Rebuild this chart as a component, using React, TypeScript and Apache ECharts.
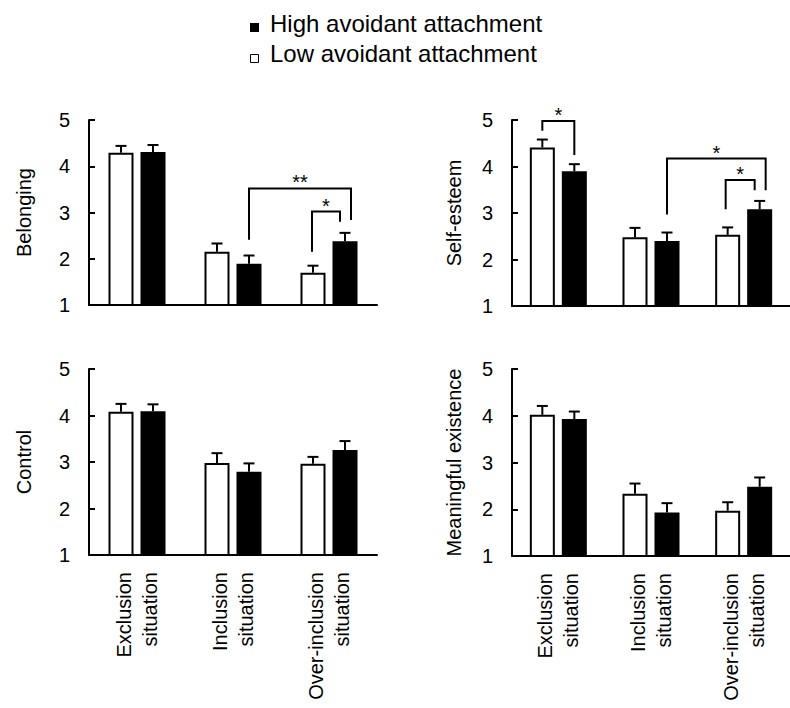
import React, { useEffect, useRef } from "react";
import * as echarts from "echarts";

// ---------- data ----------
const categories = ["Exclusion\nsituation", "Inclusion\nsituation", "Over-inclusion\nsituation"];
const panelNames = ["Belonging", "Self-esteem", "Control", "Meaningful existence"];
const lowName = "Low avoidant attachment";
const highName = "High avoidant attachment";
const yMin = 1;
const yMax = 5;
const yStep = 1;

const belongingLow = [4.29, 2.15, 1.7];
const belongingHigh = [4.31, 1.89, 2.38];
const belongingLowErr = [0.15, 0.18, 0.15];
const belongingHighErr = [0.15, 0.18, 0.18];

const selfEsteemLow = [4.41, 2.48, 2.53];
const selfEsteemHigh = [3.9, 2.4, 3.08];
const selfEsteemLowErr = [0.17, 0.2, 0.16];
const selfEsteemHighErr = [0.15, 0.18, 0.18];

const controlLow = [4.08, 2.98, 2.96];
const controlHigh = [4.09, 2.79, 3.26];
const controlLowErr = [0.17, 0.21, 0.15];
const controlHighErr = [0.15, 0.18, 0.19];

const meaningLow = [4.02, 2.33, 1.97];
const meaningHigh = [3.93, 1.93, 2.48];
const meaningLowErr = [0.19, 0.22, 0.18];
const meaningHighErr = [0.16, 0.2, 0.2];

// significance brackets: [from category, from group (0 low / 1 high), from leg end,
//                         to category, to group, to leg end, bracket height, label]
const belongingBrackets = [
  [1, 1, 2.41, 2, 1, 2.84, 3.52, "**"],
  [2, 0, 2.15, 2, 1, 2.8, 3.02, "*"],
];
const selfEsteemBrackets = [
  [0, 0, 4.77, 0, 1, 4.25, 4.98, "*"],
  [1, 1, 2.97, 2, 1, 3.49, 4.17, "*"],
  [2, 0, 3.08, 2, 1, 3.49, 3.71, "*"],
];

// ---------- styles ----------
const FONT = '"Liberation Sans", Arial, Helvetica, sans-serif';
const BAR_OFFSET = 16; // px from category centre to each bar centre
const bracketNudges = [
  [[0, 6], [-1, -5]],
  [[0, 0], [0, 6], [-2, -5]],
];
const grids = [
  { left: 89, top: 120, width: 288, height: 185 },
  { left: 512, top: 120, width: 288, height: 186 },
  { left: 89, top: 369, width: 288, height: 186 },
  { left: 512, top: 369, width: 288, height: 187 },
];
const nameGaps = [55, 48, 55, 48];

const panels = [
  { low: belongingLow, high: belongingHigh, lowErr: belongingLowErr, highErr: belongingHighErr, brackets: belongingBrackets, nudges: bracketNudges[0] },
  { low: selfEsteemLow, high: selfEsteemHigh, lowErr: selfEsteemLowErr, highErr: selfEsteemHighErr, brackets: selfEsteemBrackets, nudges: bracketNudges[1] },
  { low: controlLow, high: controlHigh, lowErr: controlLowErr, highErr: controlHighErr, brackets: [], nudges: [] },
  { low: meaningLow, high: meaningHigh, lowErr: meaningLowErr, highErr: meaningHighErr, brackets: [], nudges: [] },
];

function errorSeries(idx: number, vals: number[], errs: number[], dx: number) {
  return {
    type: "custom",
    xAxisIndex: idx,
    yAxisIndex: idx,
    z: 3,
    silent: true,
    data: vals.map((v, i) => [i, v, errs[i]]),
    encode: { x: 0, y: 1 },
    renderItem: (_p: any, api: any) => {
      const c = api.value(0);
      const v = api.value(1);
      const e = api.value(2);
      const p0 = api.coord([c, v]);
      const p1 = api.coord([c, v + e]);
      const x = p0[0] + dx;
      return {
        type: "group",
        children: [
          { type: "line", shape: { x1: x, y1: p0[1], x2: x, y2: p1[1] }, style: { stroke: "#000", lineWidth: 2 } },
          { type: "line", shape: { x1: x - 5.5, y1: p1[1], x2: x + 5.5, y2: p1[1] }, style: { stroke: "#000", lineWidth: 2 } },
        ],
      };
    },
  };
}

function bracketSeries(idx: number, brackets: any[], nudges: number[][]) {
  return {
    type: "custom",
    xAxisIndex: idx,
    yAxisIndex: idx,
    z: 4,
    silent: true,
    clip: false,
    data: brackets.map((b, i) => [b[0], b[2], b[3], b[5], b[6], b[1], b[4], i]),
    encode: { x: 0, y: 1 },
    renderItem: (_p: any, api: any) => {
      const c1 = api.value(0);
      const y1 = api.value(1);
      const c2 = api.value(2);
      const y2 = api.value(3);
      const top = api.value(4);
      const g1 = api.value(5);
      const g2 = api.value(6);
      const i = api.value(7);
      const b = brackets[i];
      const n = nudges[i] || [0, 0];
      const a = api.coord([c1, y1]);
      const bb = api.coord([c2, y2]);
      const t = api.coord([c1, top]);
      const x1 = a[0] + (g1 ? BAR_OFFSET : -BAR_OFFSET) + n[0];
      const x2 = bb[0] + (g2 ? BAR_OFFSET : -BAR_OFFSET) + n[1];
      return {
        type: "group",
        children: [
          {
            type: "polyline",
            shape: { points: [[x1, a[1]], [x1, t[1]], [x2, t[1]], [x2, bb[1]]] },
            style: { stroke: "#000", lineWidth: 2, fill: "none" },
          },
          {
            type: "text",
            x: (x1 + x2) / 2,
            y: t[1] - 6,
            style: { text: b[7], fill: "#000", font: `20px ${FONT}`, align: "center", verticalAlign: "middle" },
          },
        ],
      };
    },
  };
}

export default function App() {
  const ref = useRef<HTMLDivElement>(null);
  useEffect(() => {
    if (!ref.current) return;
    const chart = echarts.init(ref.current, null, { renderer: "svg" });
    const series: any[] = [];
    panels.forEach((p, idx) => {
      series.push({
        type: "bar",
        name: lowName,
        xAxisIndex: idx,
        yAxisIndex: idx,
        data: p.low,
        barWidth: 25,
        barGap: "28%",
        itemStyle: { color: "#fff", borderColor: "#000", borderWidth: 2 },
      });
      series.push({
        type: "bar",
        name: highName,
        xAxisIndex: idx,
        yAxisIndex: idx,
        data: p.high,
        barWidth: 25,
        barGap: "28%",
        itemStyle: { color: "#000", borderColor: "#000", borderWidth: 2 },
      });
      series.push(errorSeries(idx, p.low, p.lowErr, -BAR_OFFSET));
      series.push(errorSeries(idx, p.high, p.highErr, BAR_OFFSET));
      if (p.brackets.length) series.push(bracketSeries(idx, p.brackets, p.nudges));
    });

    const option: any = {
      animation: false,
      backgroundColor: "#fff",
      textStyle: { fontFamily: FONT },
      grid: grids.map((g) => ({ ...g, containLabel: false })),
      xAxis: grids.map((_g, idx) => ({
        gridIndex: idx,
        type: "category",
        data: categories,
        axisLine: { show: true, onZero: false, lineStyle: { color: "#000", width: 2 } },
        axisTick: { show: false },
        axisLabel: {
          show: idx >= 2,
          interval: 0,
          rotate: 90,
          fontSize: 20,
          lineHeight: 26,
          margin: 17,
          color: "#000",
          fontFamily: FONT,
        },
        splitLine: { show: false },
      })),
      yAxis: grids.map((_g, idx) => ({
        gridIndex: idx,
        type: "value",
        min: yMin,
        max: yMax,
        interval: yStep,
        name: panelNames[idx],
        nameLocation: "middle",
        nameRotate: 90,
        nameGap: nameGaps[idx],
        nameTextStyle: { fontSize: 20, color: "#000", fontFamily: FONT },
        axisLine: { show: true, lineStyle: { color: "#000", width: 2 } },
        axisTick: { show: true, inside: true, length: 6, lineStyle: { color: "#000", width: 2 } },
        axisLabel: { fontSize: 20, color: "#000", margin: 19, fontFamily: FONT },
        splitLine: { show: false },
      })),
      graphic: [
        { type: "rect", shape: { x: 250, y: 23, width: 9, height: 9 }, style: { fill: "#000" } },
        {
          type: "text",
          x: 270,
          y: 23,
          style: { text: highName, fill: "#000", font: `24px ${FONT}`, align: "left", verticalAlign: "middle" },
        },
        { type: "rect", shape: { x: 250.5, y: 54.5, width: 8, height: 8 }, style: { fill: "#fff", stroke: "#000", lineWidth: 1 } },
        {
          type: "text",
          x: 270,
          y: 53.5,
          style: { text: lowName, fill: "#000", font: `24px ${FONT}`, align: "left", verticalAlign: "middle" },
        },
      ],
      series,
    };
    chart.setOption(option);
    return () => chart.dispose();
  }, []);
  return <div ref={ref} style={{ position: "absolute", left: 0, top: 0, width: 790, height: 708 }} />;
}
